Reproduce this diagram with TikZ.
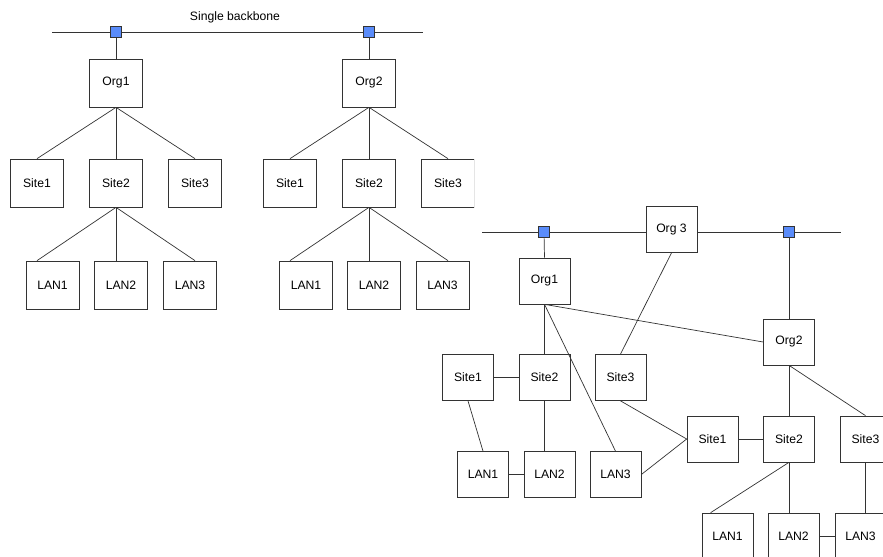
\documentclass[tikz,border=0pt]{standalone}
\usepackage{fontspec}
\setmainfont{Liberation Sans}
\definecolor{portblue}{RGB}{90,140,250}

\begin{document}
\begin{tikzpicture}[x=0.03cm, y=-0.03cm, line width=0.6pt, draw=black!80,
    font=\fontsize{10.4}{12}\selectfont,
    box/.style={rectangle, draw, fill=white, inner sep=0pt, minimum width=1.59cm, minimum height=1.44cm},
    sbox/.style={rectangle, draw, fill=white, inner sep=0pt, minimum width=1.53cm, minimum height=1.38cm},
    port/.style={rectangle, draw, fill=portblue, inner sep=0pt, minimum size=0.32cm}]
            \useasboundingbox (0,0) rectangle (883,557);
            % single backbone
            \node (title) at (235,17) {Single backbone};
            \coordinate (a1) at (52,32);
            \coordinate (a2) at (423,32);
            \path [draw] (a1) -- (a2);
            \node [port] (c1) at (116,32) {};
            \node [port] (c2) at (369,32) {};
            \node [box] (o1) at (116,83) {Org1};
            \node [box] (o2) at (369,83) {Org2};
            \node [box] (s11) at (37,183) {Site1};
            \node [box] (s12) at (116,183) {Site2};
            \node [box] (s13) at (195,183) {Site3};
            \node [box] (s21) at (290,183) {Site1};
            \node [box] (s22) at (369,183) {Site2};
            \begin{scope}
                \clip (0,0) rectangle (474,557);
                \node [box] (s23) at (448,183) {Site3};
            \end{scope}
            \node [box] (l11) at (52.5,285) {LAN1};
            \node [box] (l12) at (121,285) {LAN2};
            \node [box] (l13) at (190,285) {LAN3};
            \node [box] (l21) at (306,285) {LAN1};
            \node [box] (l22) at (374,285) {LAN2};
            \node [box] (l23) at (442.5,285) {LAN3};
            \path [draw] (c1) edge (o1.north);
            \path [draw] (c2) edge (o2.north);
            \path [draw] (o1.south) edge (s11.north);
            \path [draw] (o1.south) edge (s12.north);
            \path [draw] (o1.south) edge (s13.north);
            \path [draw] (o2.south) edge (s21.north);
            \path [draw] (o2.south) edge (s22.north);
            \path [draw] (o2.south) edge (s23.north);
            \path [draw] (s12.south) edge (l11.north -| s11.south);
            \path [draw] (s12.south) edge (l12.north -| s12.south);
            \path [draw] (s12.south) edge (l13.north -| s13.south);
            \path [draw] (s22.south) edge (l21.north -| s21.south);
            \path [draw] (s22.south) edge (l22.north -| s22.south);
            \path [draw] (s22.south) edge (l23.north -| s23.south);
            % meshed backbone
            \node [sbox] (o3) at (671.5,229.5) {Org 3};
            \coordinate (b1) at (482,232);
            \coordinate (b2) at (841,232);
            \path [draw] (b1) -- (b1 -| o3.west);
            \path [draw] (o3.east |- b2) -- (b2);
            \node [port] (c3) at (544,232) {};
            \node [port] (c4) at (789,232) {};
            \node [sbox] (p1) at (544.5,281) {Org1};
            \node [sbox] (p2) at (789,342) {Org2};
            \node [sbox] (q1) at (468,377.5) {Site1};
            \node [sbox] (q2) at (544.5,377.5) {Site2};
            \node [sbox] (q3) at (620.5,377.5) {Site3};
            \node [sbox] (m1) at (483,474.5) {LAN1};
            \node [sbox] (m2) at (549.5,474.5) {LAN2};
            \node [sbox] (m3) at (615.5,474.5) {LAN3};
            \node [sbox] (r1) at (712.5,439) {Site1};
            \node [sbox] (r2) at (789,439) {Site2};
            \node [sbox] (r3) at (865.5,439) {Site3};
            \node [sbox] (n1) at (727.5,536) {LAN1};
            \node [sbox] (n2) at (793.5,536) {LAN2};
            \node [sbox] (n3) at (860.5,536) {LAN3};
            \path [draw] (c3) edge (p1.north);
            \path [draw] (c4) edge (p2.north);
            \path [draw] (o3.south) edge (q3.north);
            \path [draw] (p1.south) edge (p2.west);
            \path [draw] (p1.south) edge (q2.north);
            \path [draw] (p1.south) edge (m3.north);
            \path [draw] (q1) edge (q2);
            \path [draw] (q1.south) edge (m1.north);
            \path [draw] (q2.south) edge (q2.south |- m2.north);
            \path [draw] (m1) edge (m2);
            \path [draw] (q3.south) edge (r1.west);
            \path [draw] (m3.east) edge (r1.west);
            \path [draw] (r1) edge (r2);
            \path [draw] (p2.south) edge (r2.north);
            \path [draw] (p2.south) edge (r3.north);
            \path [draw] (r2.south) edge ([xshift=0.27cm]n1.north west);
            \path [draw] (r2.south) edge (r2.south |- n2.north);
            \path [draw] (r3.south) edge (r3.south |- n3.north);
            \path [draw] (n2) edge (n3);
        \end{tikzpicture}
\end{document}
